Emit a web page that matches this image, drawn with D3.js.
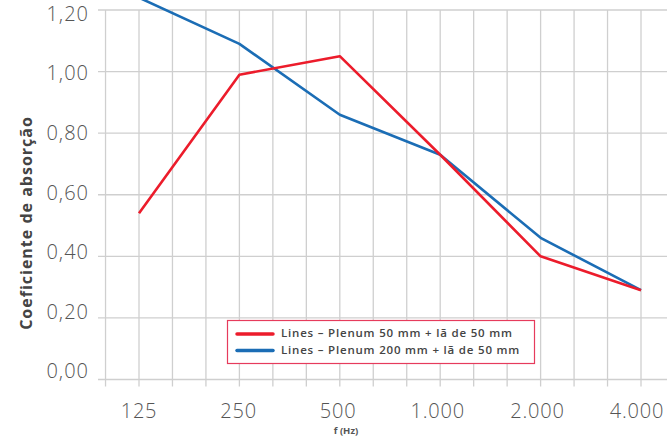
<!DOCTYPE html>
<html>
<head>
<meta charset="utf-8">
<script src="https://cdn.jsdelivr.net/npm/d3@7"></script>
<style>
    body { margin: 0; background: #fff; }
    svg { display: block; }
</style>
</head>
<body>
<svg id="chart" width="667" height="436"></svg>
<script>
    // data
    const freqs = ["125", "250", "500", "1.000", "2.000", "4.000"];
    const plenum50 = [0.54, 0.99, 1.05, 0.73, 0.40, 0.29];
    const plenum200 = [1.24, 1.09, 0.86, 0.73, 0.46, 0.29];
    const yTicks = [0, 0.2, 0.4, 0.6, 0.8, 1.0, 1.2];
    const seriesNames = ["Lines – Plenum 50 mm + lã de 50 mm", "Lines – Plenum 200 mm + lã de 50 mm"];
    const seriesColors = ["#ec1c2b", "#1b6db5"];

    const svg = d3.select("svg#chart");
    const width = +svg.attr("width");
    const gridColor = "#cfcfcf";
    const textColor = "#555";
    const tickFont = "'Open Sans', sans-serif";

    let yScale = d3.scaleLinear().domain([0, 1.2]).range([379.5, 10]);
    let yLabelScale = d3.scaleLinear().domain([0, 1.2]).range([373, 15.5]);
    let xScale = d3.scalePoint().domain(freqs).range([139, 641]);
    let xLabelScale = d3.scalePoint().domain(freqs).range([139, 637]);

    // minor vertical grid: three cells per octave
    const step = xScale.step() / 3;
    const gridX = d3.range(-1, 16).map(k => xScale(freqs[0]) + k * step);

    let grid = svg.append("g").attr("id", "grid");
    grid.selectAll("line.v").data(gridX)
        .join("line").attr("class", "v")
        .attr("x1", d => d).attr("x2", d => d)
        .attr("y1", yScale(1.2)).attr("y2", yScale(0) + 7)
        .attr("stroke", gridColor).attr("stroke-width", 1.3);
    grid.selectAll("line.h").data(yTicks)
        .join("line").attr("class", "h")
        .attr("x1", 98).attr("x2", width)
        .attr("y1", d => yScale(d)).attr("y2", d => yScale(d))
        .attr("stroke", gridColor).attr("stroke-width", 1.3);

    // y labels
    svg.append("g").selectAll("text").data(yTicks)
        .join("text")
        .attr("x", 89)
        .attr("y", d => yLabelScale(d))
        .attr("text-anchor", "end")
        .attr("dominant-baseline", "middle")
        .attr("font-family", tickFont)
        .attr("font-weight", 300)
        .attr("font-size", 20)
        .attr("letter-spacing", 1)
        .attr("fill", textColor)
        .text(d => d3.format(".2f")(d).replace(".", ","));

    // x labels
    svg.append("g").selectAll("text").data(freqs)
        .join("text")
        .attr("x", d => xLabelScale(d))
        .attr("y", 418)
        .attr("text-anchor", "middle")
        .attr("font-family", tickFont)
        .attr("font-weight", 300)
        .attr("font-size", 20)
        .attr("letter-spacing", 0.8)
        .attr("fill", textColor)
        .text(d => d);

    svg.append("text")
        .attr("x", 346).attr("y", 433.5)
        .attr("text-anchor", "middle")
        .attr("font-family", tickFont)
        .attr("font-weight", 700)
        .attr("font-size", 9.5)
        .attr("fill", textColor)
        .text("f (Hz)");

    svg.append("text")
        .attr("transform", "translate(32,223) rotate(-90)")
        .attr("text-anchor", "middle")
        .attr("font-family", tickFont)
        .attr("font-weight", 700)
        .attr("font-size", 16)
        .attr("letter-spacing", 1)
        .attr("fill", "#444")
        .text("Coeficiente de absorção");

    // lines
    const line = d3.line()
        .x((d, i) => xScale(freqs[i]))
        .y(d => yScale(d));
    svg.append("g").selectAll("path").data([plenum200, plenum50])
        .join("path")
        .attr("fill", "none")
        .attr("stroke", (d, i) => i === 0 ? seriesColors[1] : seriesColors[0])
        .attr("stroke-width", 2.6)
        .attr("stroke-linejoin", "round")
        .attr("d", line);

    // legend
    let legend = svg.append("g").attr("transform", "translate(227,320)");
    legend.append("rect")
        .attr("x", 0.5).attr("y", 0.5)
        .attr("width", 307).attr("height", 43)
        .attr("fill", "#fff")
        .attr("stroke", "#e63b5c").attr("stroke-width", 1.2);
    legend.selectAll("line").data(seriesNames)
        .join("line")
        .attr("x1", 10).attr("x2", 46)
        .attr("y1", (d, i) => 14 + i * 16.5).attr("y2", (d, i) => 14 + i * 16.5)
        .attr("stroke", (d, i) => seriesColors[i])
        .attr("stroke-width", 3.5)
        .attr("stroke-linecap", "round");
    legend.selectAll("text").data(seriesNames)
        .join("text")
        .attr("x", 54)
        .attr("y", (d, i) => 14 + i * 16.5)
        .attr("dominant-baseline", "middle")
        .attr("font-family", tickFont)
        .attr("font-weight", 600)
        .attr("font-size", 11.5)
        .attr("letter-spacing", 0.8)
        .attr("fill", "#444")
        .text(d => d);
</script>
</body>
</html>
